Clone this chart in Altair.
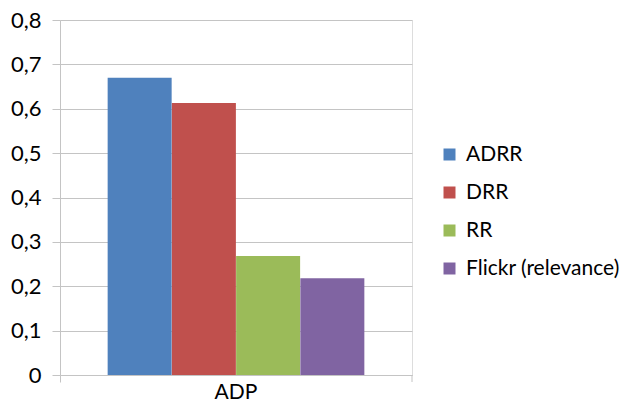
import altair as alt
import pandas as pd

# Series values for the single ADP group
methods = ["ADRR", "DRR", "RR", "Flickr (relevance)"]
values = [0.670, 0.613, 0.268, 0.218]
colors = ["#4F81BD", "#C0504D", "#9BBB59", "#8064A2"]
group = "ADP"

df = pd.DataFrame({"group": [group] * len(methods), "method": methods, "value": values})

FONT = "Lato"
FS = 22
GRID = "#c4c4c4"

bars = alt.Chart(df).mark_bar(size=64).encode(
    x=alt.X(
        "group:N",
        title=None,
        scale=alt.Scale(paddingInner=0, paddingOuter=0),
        axis=alt.Axis(
            labelAngle=0,
            labelFontSize=21,
            labelFont=FONT,
            labelColor="#000000",
            labelPadding=-1,
            tickSize=7,
            tickColor=GRID,
            domainColor=GRID,
            bandPosition=0,
            grid=False,
        ),
    ),
    xOffset=alt.XOffset(
        "method:N",
        sort=methods,
        scale=alt.Scale(paddingInner=0, paddingOuter=0.74),
    ),
    y=alt.Y(
        "value:Q",
        title=None,
        scale=alt.Scale(domain=[0, 0.8], nice=False),
        axis=alt.Axis(
            values=[0, 0.1, 0.2, 0.3, 0.4, 0.5, 0.6, 0.7, 0.8],
            labelExpr="datum.value == 0 ? '0' : replace(format(datum.value, '.1f'), '.', ',')",
            labelFontSize=FS,
            labelFont=FONT,
            labelColor="#000000",
            labelPadding=11,
            tickSize=8,
            tickColor=GRID,
            domainColor=GRID,
            gridColor=GRID,
        ),
    ),
    color=alt.Color(
        "method:N",
        sort=methods,
        scale=alt.Scale(domain=methods, range=colors),
        legend=alt.Legend(
            title=None,
            orient="none",
            legendX=379,
            legendY=124,
            symbolType="square",
            symbolSize=144,
            symbolStrokeWidth=0,
            labelFontSize=21,
            labelFont=FONT,
            labelColor="#000000",
            labelOffset=6,
            labelLimit=300,
            rowPadding=16,
            padding=0,
        ),
    ),
)

# closing tick at the right end of the category axis
end_tick = alt.Chart(df.head(1)).mark_rule(color=GRID).encode(
    x=alt.value(352), y=alt.value(355), y2=alt.value(362)
)

chart = (
    alt.layer(bars, end_tick)
    .properties(
        width=352,
        height=355,
        autosize=alt.AutoSizeParams(type="none"),
        padding={"left": 60, "top": 20, "right": 218, "bottom": 26},
    )
    .configure_view(stroke=None)
    .configure(background="#ffffff")
)

chart.save("out.html", embed_options={"renderer": "svg", "actions": False})
